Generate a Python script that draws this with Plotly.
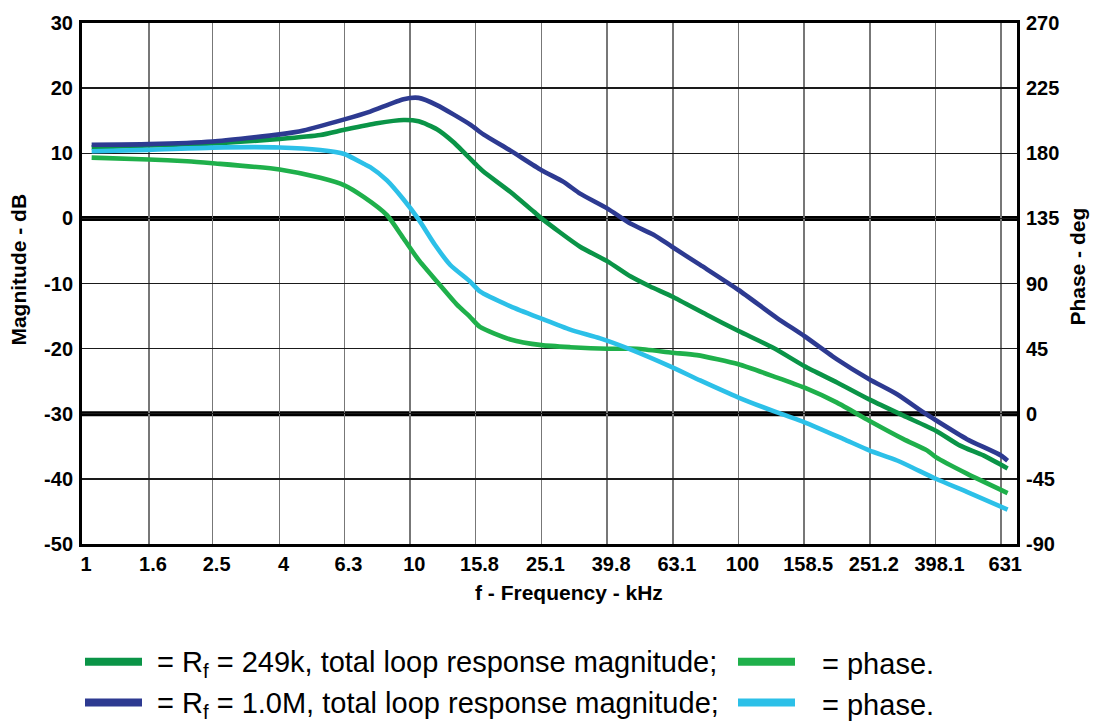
import math
import plotly.graph_objects as go

# ---------------- data ----------------
tick_labels = ["1", "1.6", "2.5", "4", "6.3", "10", "15.8", "25.1", "39.8",
               "63.1", "100", "158.5", "251.2", "398.1", "631"]
phase_ticks = [-90, -45, 0, 45, 90, 135, 180, 225, 270]
mag_ticks = [-50, -40, -30, -20, -10, 0, 10, 20, 30]
ref_lines_db = [0, -30]

# Rf = 1.0M magnitude (dB)
f_mag_1m = [1.07, 1.6, 2.5, 4.0, 4.73, 6.3, 7.55, 9.54, 10.6, 12.05, 15.23, 16.7,
            20.2, 25.1, 29.3, 32.9, 39.9, 46.8, 55.1, 62.7, 76.4, 100, 131, 158.9,
            199.5, 250, 304, 366, 399, 496, 630, 660]
mag_1m = [11.3, 11.4, 11.8, 12.9, 13.5, 15.2, 16.4, 18.3, 18.5, 17.4, 14.4, 12.9,
          10.4, 7.4, 5.6, 3.8, 1.5, -0.8, -2.5, -4.35, -7.15, -11.0, -15.3, -18.1,
          -21.65, -24.7, -27.0, -29.8, -31.0, -33.9, -36.4, -37.2]

# Rf = 249k magnitude (dB)
f_mag_249k = [1.07, 1.6, 2.5, 4.0, 5.32, 6.3, 7.92, 9.54, 10.6, 12.05, 13.55, 15.97,
              16.7, 20.2, 23.8, 25.1, 32.9, 39.9, 46.8, 53.8, 62.7, 80, 100, 127.9,
              158.9, 199.5, 250, 318, 399, 473, 557, 660]
mag_249k = [10.9, 11.2, 11.5, 12.2, 12.8, 13.6, 14.6, 15.1, 14.9, 13.7, 11.7, 8.1,
            7.2, 4.05, 1.0, 0.0, -4.35, -6.6, -8.9, -10.46, -12.0, -14.8, -17.3, -19.9,
            -22.7, -25.2, -27.8, -30.3, -32.6, -34.9, -36.4, -38.4]

# Rf = 1.0M phase (deg)
f_ph_1m = [1.07, 1.6, 2.5, 4.0, 5.32, 6.3, 7.21, 7.55, 8.49, 9.54, 10.6, 11.9,
           13.24, 15.2, 16.3, 20.2, 25.1, 30.7, 37.9, 46.8, 63.1, 76.4, 100,
           131, 158.9, 209, 250, 304, 399, 496, 660]
ph_1m = [181.4, 182.3, 183.9, 184.0, 182.3, 179.5, 172.7, 170.4, 161.2, 148.0, 134.3, 116.6,
         102.8, 91.4, 84.5, 74.2, 65.7, 58.1, 52.1, 44.5, 31.9, 23.0, 11.2,
         0.9, -5.9, -17.5, -25.3, -32.3, -44.9, -54.0, -66.2]

# Rf = 249k phase (deg)
f_ph_249k = [1.07, 1.6, 2.09, 2.5, 4.0, 5.32, 6.3, 7.21, 8.49, 9.54, 10.6, 12.05,
             13.87, 15.2, 16.3, 20.2, 25.1, 30.7, 39.9, 49.0, 62.7, 74.7, 100, 131,
             158.9, 199.5, 250, 318, 375, 399, 496, 660]
ph_249k = [177.0, 175.7, 174.5, 173.1, 168.8, 163.0, 157.8, 149.8, 137.2, 121.1, 106.3, 91.4,
           75.4, 67.0, 60.0, 51.3, 47.4, 46.0, 44.9, 44.9, 42.2, 40.5, 34.2, 25.0,
           18.0, 7.7, -4.8, -17.5, -25.3, -30.0, -41.4, -54.8]

legend_mag_text = ["= R<sub>f</sub> = 249k, total loop response magnitude;",
                   "= R<sub>f</sub> = 1.0M, total loop response magnitude;"]
legend_phase_text = ["= phase.", "= phase."]

# ---------------- styles ----------------
C_MAG_249K = "#0a9447"
C_PH_249K = "#1fb04b"
C_MAG_1M = "#2d3a91"
C_PH_1M = "#2cc0e8"

W, H = 1093, 723
L, R, T, B = 82, 1017, 20, 544  # plot area in pixels


def px(x):
    return (x - L) / (R - L)


def py(y):
    return (B - y) / (B - T)


TICKF = dict(family="Liberation Sans, Arial, sans-serif", size=20, color="black", weight="bold")
TITLEF = dict(family="Liberation Sans, Arial, sans-serif", size=21, color="black", weight="bold")
REG = dict(family="Liberation Sans, Arial, sans-serif", size=29, color="black")

fig = go.Figure()

series = [
    (f_mag_249k, mag_249k, C_MAG_249K, "y"),
    (f_mag_1m, mag_1m, C_MAG_1M, "y"),
    (f_ph_249k, ph_249k, C_PH_249K, "y2"),
    (f_ph_1m, ph_1m, C_PH_1M, "y2"),
]
for fx, vy, col, ax in series:
    fig.add_trace(go.Scatter(x=fx, y=vy, mode="lines", yaxis=ax,
                             line=dict(color=col, width=4.6, shape="spline", smoothing=0.6),
                             showlegend=False, hoverinfo="skip"))

shapes = []
for v in ref_lines_db:
    shapes.append(dict(type="line", xref="paper", x0=0, x1=1, yref="y", y0=v, y1=v,
                       line=dict(color="black", width=5), layer="below"))

# custom legend
rows_y = [662.5, 703.5]
mag_cols = [C_MAG_249K, C_MAG_1M]
ph_cols = [C_PH_249K, C_PH_1M]
annotations = []
for i in range(2):
    shapes.append(dict(type="line", xref="paper", yref="paper",
                       x0=px(85), x1=px(142), y0=py(rows_y[i]), y1=py(rows_y[i]),
                       line=dict(color=mag_cols[i], width=8)))
    shapes.append(dict(type="line", xref="paper", yref="paper",
                       x0=px(738), x1=px(795), y0=py(rows_y[i]), y1=py(rows_y[i]),
                       line=dict(color=ph_cols[i], width=8)))
    annotations.append(dict(text=legend_mag_text[i], xref="paper", yref="paper",
                            x=px(155), y=py(rows_y[i] + 2), xanchor="left", yanchor="middle",
                            showarrow=False, font=REG))
    annotations.append(dict(text=legend_phase_text[i], xref="paper", yref="paper",
                            x=px(820), y=py(rows_y[i] + 2), xanchor="left", yanchor="middle",
                            showarrow=False, font=REG))

# axis titles
annotations.append(dict(text="Magnitude - dB", xref="paper", yref="paper", x=px(19), y=py(268),
                        textangle=-90, showarrow=False, font=TITLEF, xanchor="center", yanchor="middle"))
annotations.append(dict(text="Phase - deg", xref="paper", yref="paper", x=px(1078), y=py(265),
                        textangle=-90, showarrow=False, font=TITLEF, xanchor="center", yanchor="middle"))
annotations.append(dict(text="f - Frequency - kHz", xref="paper", yref="paper", x=px(569), y=py(593),
                        showarrow=False, font=TITLEF, xanchor="center", yanchor="middle"))

fig.update_layout(
    width=W, height=H,
    margin=dict(l=L, r=W - R, t=T, b=H - B, pad=0),
    plot_bgcolor="white", paper_bgcolor="white",
    showlegend=False,
    shapes=shapes, annotations=annotations,
    xaxis=dict(type="log", range=[0, math.log10(705)],
               tickvals=[float(t) for t in tick_labels], ticktext=tick_labels,
               tickfont=TICKF, ticks="", ticklabelstandoff=0, ticklabelshift=4,
               showgrid=True, gridcolor="#777777", gridwidth=1.6,
               showline=True, linecolor="black", linewidth=3, mirror=True,
               zeroline=False, fixedrange=True),
    yaxis=dict(range=[-50, 30], tickvals=mag_ticks, ticktext=[str(v) for v in mag_ticks],
               tickfont=TICKF, ticks="", ticklabelstandoff=2,
               showgrid=True, gridcolor="#1a1a1a", gridwidth=1.3,
               showline=True, linecolor="black", linewidth=3, mirror=True,
               zeroline=False, fixedrange=True),
    yaxis2=dict(range=[-90, 270], tickvals=phase_ticks, ticktext=[str(v) for v in phase_ticks],
                tickfont=TICKF, ticks="",
                overlaying="y", side="right", showgrid=False, zeroline=False,
                ticklabelstandoff=8, showline=False, fixedrange=True),
)

fig.write_html("out.html", config={"displayModeBar": False, "staticPlot": True})
with open("out.html", "r", encoding="utf-8") as fh:
    html = fh.read()
html = html.replace("<head>", "<head><style>html,body{margin:0;padding:0;overflow:hidden;}</style>", 1)
with open("out.html", "w", encoding="utf-8") as fh:
    fh.write(html)
